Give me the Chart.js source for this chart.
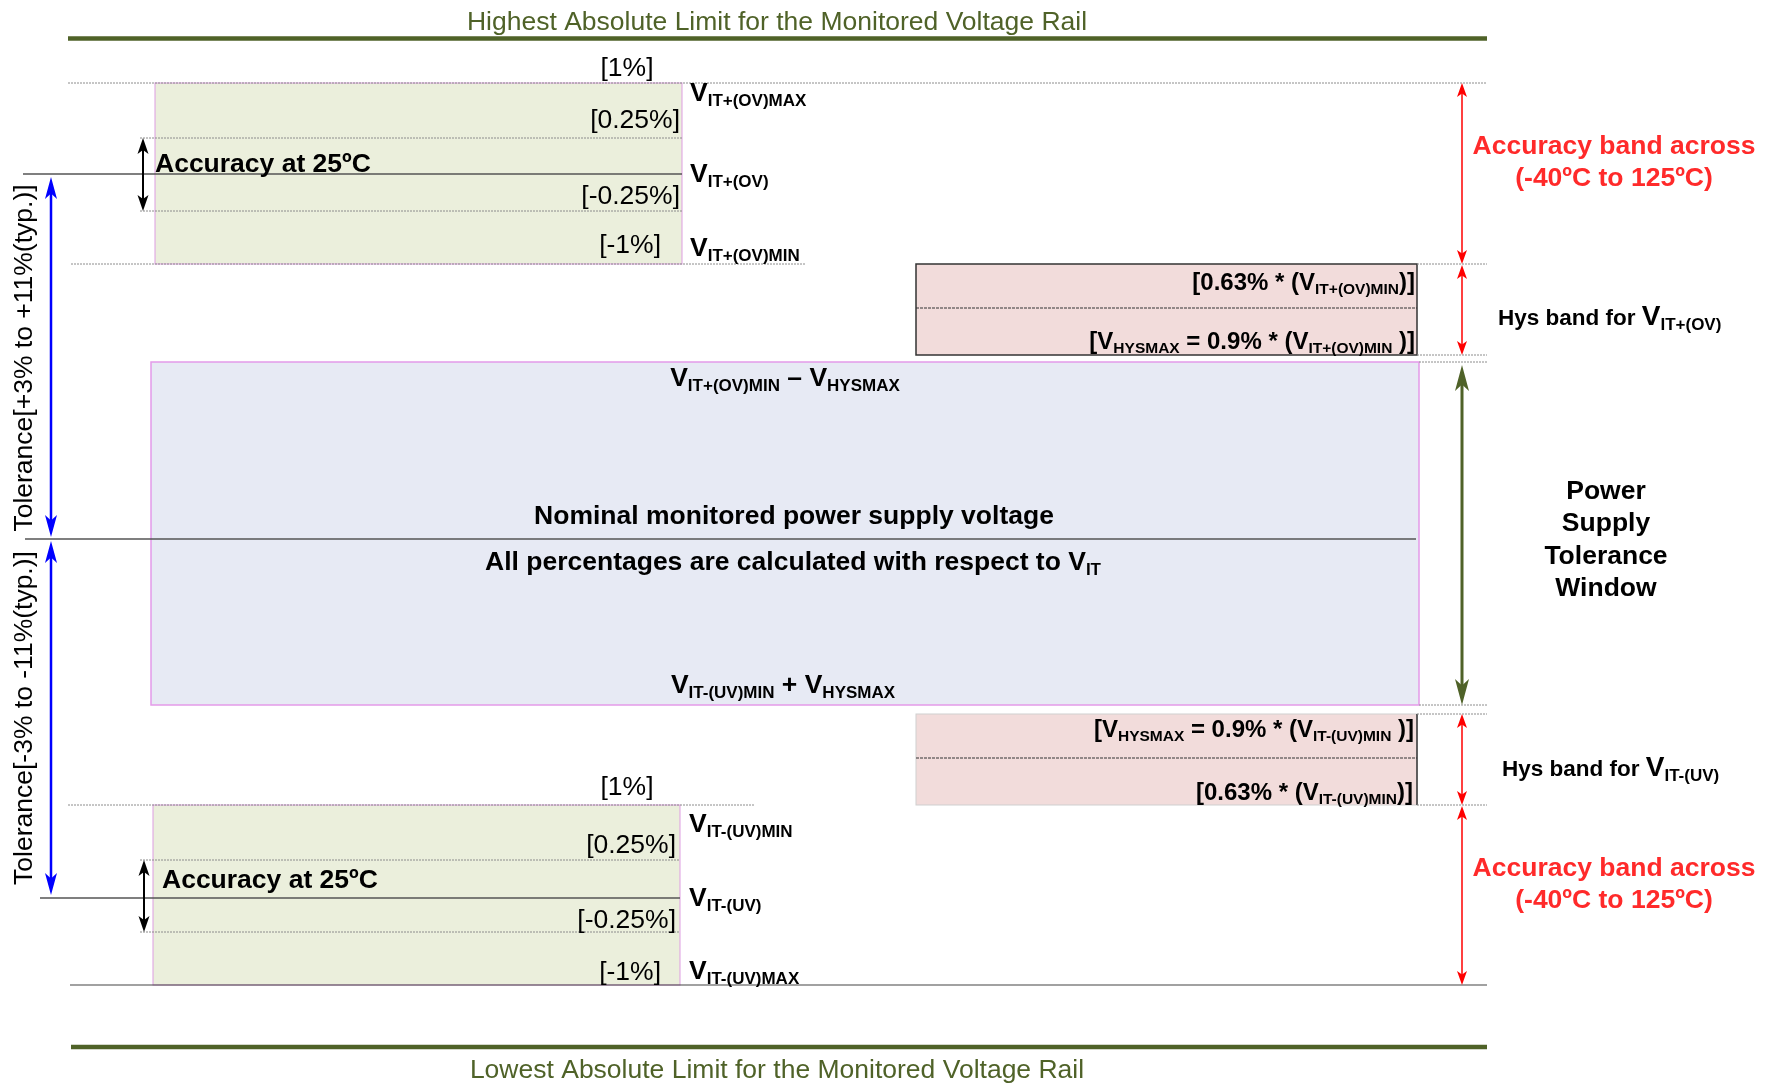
<!DOCTYPE html>
<html lang="en">
<head>
<meta charset="UTF-8">
<title>Voltage monitor thresholds</title>
<script src="https://cdn.jsdelivr.net/npm/chart.js"></script>
<style>
  body { margin: 0; background: #fff; }
  canvas { display: block; }
</style>
</head>
<body>
<canvas id="diagram" width="1776" height="1083"></canvas>
<script>
// levels of the diagram, y grows downward
const railY = [38.5, 1047];               // highest / lowest absolute limit
const ovY = [83, 138, 174, 211, 264];     // VIT+(OV)MAX, +0.25%, VIT+(OV), -0.25%, VIT+(OV)MIN
const hysOvY = [264, 308, 355];
const windowY = [362, 539, 705];          // window top, nominal, window bottom
const hysUvY = [714, 758, 805];
const uvY = [805, 860, 898, 932, 985];    // VIT-(UV)MIN, +0.25%, VIT-(UV), -0.25%, VIT-(UV)MAX

const accX = [155, 682];
const hysX = [916, 1417];
const winX = [151, 1419];
const railX = [68, 1487];
const arrowX = [51, 143, 1462];

const bandPct = ['[1%]', '[0.25%]', '[-0.25%]', '[-1%]'];
const ovNames = ['V_{IT+(OV)MAX}', 'V_{IT+(OV)}', 'V_{IT+(OV)MIN}'];
const uvNames = ['V_{IT-(UV)MIN}', 'V_{IT-(UV)}', 'V_{IT-(UV)MAX}'];
const hysOvText = ['[0.63% * (V_{IT+(OV)MIN})]', '[V_{HYSMAX} = 0.9% * (V_{IT+(OV)MIN} )]'];
const hysUvText = ['[V_{HYSMAX} = 0.9% * (V_{IT-(UV)MIN} )]', '[0.63% * (V_{IT-(UV)MIN})]'];
const windowText = ['V_{IT+(OV)MIN} \u2013 V_{HYSMAX}', 'Nominal monitored power supply voltage',
                    'All percentages are calculated with respect to V_{IT}', 'V_{IT-(UV)MIN} + V_{HYSMAX}'];
const toleranceText = ['Tolerance[+3% to +11%(typ.)]', 'Tolerance[-3% to -11%(typ.)]'];
const railText = ['Highest Absolute Limit for the Monitored Voltage Rail', 'Lowest Absolute Limit for the Monitored Voltage Rail'];

const OLIVE = '#4F6228';
const RED = '#FF2A2A';
const FAMILY = '"Liberation Sans", Arial, sans-serif';

const dotted = { borderColor: '#8c8c8c', borderWidth: 1, borderDash: [2, 1] };
const solid = { borderColor: '#555', borderWidth: 1.5 };

function seg(y, x0, x1, style) {
  return Object.assign({
    data: [{ x: x0, y: y }, { x: x1, y: y }],
    showLine: true, pointRadius: 0, fill: false
  }, style);
}

const lines = [
  seg(railY[0], railX[0], railX[1], { borderColor: OLIVE, borderWidth: 4.5 }),
  seg(railY[1], railX[0] + 3, railX[1], { borderColor: OLIVE, borderWidth: 4.5 }),
  seg(ovY[0], railX[0], railX[1], dotted),
  seg(ovY[1], 140, accX[1], dotted),
  seg(ovY[2], 23, accX[1], solid),
  seg(ovY[3], 140, accX[1], dotted),
  seg(ovY[4], railX[0] + 3, 805, dotted),
  seg(ovY[4], hysX[1], railX[1], dotted),
  seg(hysOvY[1], hysX[0], hysX[1], { borderColor: '#333', borderWidth: 1, borderDash: [3, 1] }),
  seg(hysOvY[2], hysX[1], railX[1], dotted),
  seg(windowY[0], winX[1], railX[1], dotted),
  seg(windowY[1], 25, winX[1] - 3, solid),
  seg(windowY[2], winX[1], railX[1], dotted),
  seg(hysUvY[0], hysX[1], railX[1], dotted),
  seg(hysUvY[1], hysX[0], hysX[1], { borderColor: '#333', borderWidth: 1, borderDash: [3, 1] }),
  seg(uvY[0], railX[0], 755, dotted),
  seg(uvY[0], hysX[1], railX[1], dotted),
  seg(uvY[1], 140, accX[1] - 2, dotted),
  seg(uvY[2], 40, accX[1] - 2, solid),
  seg(uvY[3], 140, accX[1] - 2, dotted),
  seg(uvY[4], railX[0] + 2, railX[1], { borderColor: '#444', borderWidth: 1.2 })
];

function font(size, bold) {
  return (bold ? 'bold ' : '') + size + 'px ' + FAMILY;
}

// text with V_{sub} subscripts, returns the drawn width
function rich(ctx, str, x, y, o) {
  const size = o.size || 26.5;
  const sub = o.sub || size * 0.64;
  const segs = [];
  const re = /_\{([^}]*)\}/g;
  let last = 0, m;
  while ((m = re.exec(str))) {
    if (m.index > last) segs.push({ t: str.slice(last, m.index), s: false });
    segs.push({ t: m[1], s: true });
    last = re.lastIndex;
  }
  if (last < str.length) segs.push({ t: str.slice(last), s: false });
  let total = 0;
  segs.forEach(p => {
    ctx.font = font(p.s ? sub : size, o.bold);
    p.w = ctx.measureText(p.t).width;
    total += p.w;
  });
  let cx = o.align === 'right' ? x - total : o.align === 'center' ? x - total / 2 : x;
  ctx.fillStyle = o.color || '#000';
  ctx.textAlign = 'left';
  ctx.textBaseline = 'alphabetic';
  segs.forEach(p => {
    ctx.font = font(p.s ? sub : size, o.bold);
    ctx.fillText(p.t, cx, y + (p.s ? size * 0.18 : 0));
    cx += p.w;
  });
  return total;
}

function arrow(ctx, x, y0, y1, o) {
  ctx.save();
  ctx.strokeStyle = o.color;
  ctx.fillStyle = o.color;
  ctx.lineWidth = o.lw;
  ctx.beginPath();
  ctx.moveTo(x, y0 + o.hl * 0.6);
  ctx.lineTo(x, y1 - o.hl * 0.6);
  ctx.stroke();
  [[y0, 1], [y1, -1]].forEach(([tip, d]) => {
    ctx.beginPath();
    ctx.moveTo(x, tip);
    ctx.lineTo(x - o.hw, tip + d * o.hl);
    ctx.lineTo(x, tip + d * o.hl * 0.75);
    ctx.lineTo(x + o.hw, tip + d * o.hl);
    ctx.closePath();
    ctx.fill();
  });
  ctx.restore();
}

const diagram = {
  id: 'diagram',
  beforeDatasetsDraw(chart) {
    const ctx = chart.ctx, xs = chart.scales.x, ys = chart.scales.y;
    const X = v => xs.getPixelForValue(v), Y = v => ys.getPixelForValue(v);
    function box(x0, x1, y0, y1, fill, stroke, lw) {
      ctx.save();
      ctx.fillStyle = fill;
      ctx.fillRect(X(x0), Y(y0), X(x1) - X(x0), Y(y1) - Y(y0));
      ctx.strokeStyle = stroke;
      ctx.lineWidth = lw;
      ctx.strokeRect(X(x0), Y(y0), X(x1) - X(x0), Y(y1) - Y(y0));
      ctx.restore();
    }
    box(accX[0], accX[1], ovY[0], ovY[4], '#EBEFDC', '#DE9DE2', 1);
    box(accX[0] - 2, accX[1] - 2, uvY[0], uvY[4], '#EBEFDC', '#DE9DE2', 1);
    box(winX[0], winX[1], windowY[0], windowY[2], '#E7EAF4', '#E49AE9', 1.5);
    box(hysX[0], hysX[1], hysOvY[0], hysOvY[2], '#F2DCDB', '#333', 1.5);
    box(hysX[0], hysX[1], hysUvY[0], hysUvY[2], '#F2DCDB', '#cfcfcf', 1);
    ctx.save();
    ctx.strokeStyle = '#333';
    ctx.lineWidth = 1.5;
    ctx.beginPath();
    ctx.moveTo(X(hysX[1]), Y(hysUvY[0]));
    ctx.lineTo(X(hysX[1]), Y(hysUvY[2]));
    ctx.stroke();
    ctx.restore();
  },
  afterDatasetsDraw(chart) {
    const ctx = chart.ctx, xs = chart.scales.x, ys = chart.scales.y;
    const X = v => xs.getPixelForValue(v), Y = v => ys.getPixelForValue(v);

    // rail titles
    rich(ctx, railText[0], X(777), Y(railY[0]) - 9, { color: OLIVE, align: 'center' });
    rich(ctx, railText[1], X(777), Y(railY[1]) + 31, { color: OLIVE, align: 'center' });

    // over-voltage accuracy block
    rich(ctx, bandPct[0], X(627), Y(ovY[0]) - 7, { align: 'center' });
    rich(ctx, bandPct[1], X(accX[1]) - 2, Y(ovY[1]) - 10, { align: 'right' });
    rich(ctx, 'Accuracy at 25\u00baC', X(accX[0]), Y(ovY[2]) - 2, { bold: true });
    rich(ctx, bandPct[2], X(accX[1]) - 2, Y(ovY[3]) - 7, { align: 'right' });
    rich(ctx, bandPct[3], X(661), Y(ovY[4]) - 11, { align: 'right' });
    rich(ctx, ovNames[0], X(690), Y(ovY[0]) + 18, { bold: true, sub: 17 });
    rich(ctx, ovNames[1], X(690), Y(ovY[2]) + 8, { bold: true, sub: 17 });
    rich(ctx, ovNames[2], X(690), Y(ovY[4]) - 8, { bold: true, sub: 17 });

    // under-voltage accuracy block
    rich(ctx, bandPct[0], X(627), Y(uvY[0]) - 10, { align: 'center' });
    rich(ctx, bandPct[1], X(accX[1]) - 6, Y(uvY[1]) - 7, { align: 'right' });
    rich(ctx, 'Accuracy at 25\u00baC', X(162), Y(uvY[2]) - 10, { bold: true });
    rich(ctx, bandPct[2], X(accX[1]) - 6, Y(uvY[3]) - 4, { align: 'right' });
    rich(ctx, bandPct[3], X(661), Y(uvY[4]) - 5, { align: 'right' });
    rich(ctx, uvNames[0], X(689), Y(uvY[0]) + 27, { bold: true, sub: 17 });
    rich(ctx, uvNames[1], X(689), Y(uvY[2]) + 8, { bold: true, sub: 17 });
    rich(ctx, uvNames[2], X(689), Y(uvY[4]) - 6, { bold: true, sub: 17 });

    // hysteresis boxes
    rich(ctx, hysOvText[0], X(hysX[1]) - 2, Y(hysOvY[0]) + 26, { bold: true, size: 24, sub: 15.5, align: 'right' });
    rich(ctx, hysOvText[1], X(hysX[1]) - 2, Y(hysOvY[2]) - 6, { bold: true, size: 24, sub: 15.5, align: 'right' });
    rich(ctx, hysUvText[0], X(hysX[1]) - 3, Y(hysUvY[0]) + 23, { bold: true, size: 24, sub: 15.5, align: 'right' });
    rich(ctx, hysUvText[1], X(hysX[1]) - 4, Y(hysUvY[2]) - 5, { bold: true, size: 24, sub: 15.5, align: 'right' });

    // tolerance window
    rich(ctx, windowText[0], X(785), Y(windowY[0]) + 24, { bold: true, sub: 17, align: 'center' });
    rich(ctx, windowText[1], X(794), Y(windowY[1]) - 15, { bold: true, align: 'center' });
    rich(ctx, windowText[2], X(793), Y(windowY[1]) + 31, { bold: true, sub: 17, align: 'center' });
    rich(ctx, windowText[3], X(783), Y(windowY[2]) - 12, { bold: true, sub: 17, align: 'center' });

    // right-hand notes
    rich(ctx, 'Accuracy band across', X(1614), 154, { bold: true, color: RED, align: 'center' });
    rich(ctx, '(-40\u00baC to 125\u00baC)', X(1614), 186, { bold: true, color: RED, align: 'center' });
    rich(ctx, 'Accuracy band across', X(1614), 876, { bold: true, color: RED, align: 'center' });
    rich(ctx, '(-40\u00baC to 125\u00baC)', X(1614), 908, { bold: true, color: RED, align: 'center' });
    let w = rich(ctx, 'Hys band for ', X(1498), 325, { bold: true, size: 22.5 });
    rich(ctx, 'V_{IT+(OV)}', X(1498) + w, 325, { bold: true, size: 28, sub: 17 });
    w = rich(ctx, 'Hys band for ', X(1502), 776, { bold: true, size: 22.5 });
    rich(ctx, 'V_{IT-(UV)}', X(1502) + w, 776, { bold: true, size: 28, sub: 17 });
    ['Power', 'Supply', 'Tolerance', 'Window'].forEach((word, i) => {
      rich(ctx, word, X(1606), 499 + i * 32.3, { bold: true, align: 'center' });
    });

    // rotated tolerance labels
    [[toleranceText[0], 358], [toleranceText[1], 718]].forEach(([t, cy]) => {
      ctx.save();
      ctx.translate(X(25), Y(cy));
      ctx.rotate(-Math.PI / 2);
      ctx.font = font(26.5, false);
      ctx.fillStyle = '#000';
      ctx.textAlign = 'center';
      ctx.textBaseline = 'middle';
      ctx.fillText(t, 0, 0);
      ctx.restore();
    });

    // arrows
    const black = { color: '#000', lw: 2, hl: 16, hw: 5.5 };
    const blue = { color: '#0000FF', lw: 2.5, hl: 22, hw: 6 };
    const red = { color: '#FF0000', lw: 1.5, hl: 14, hw: 5 };
    const green = { color: OLIVE, lw: 3, hl: 26, hw: 7 };
    arrow(ctx, X(arrowX[1]), Y(ovY[1]), Y(ovY[3]), black);
    arrow(ctx, X(arrowX[1] + 1), Y(uvY[1]), Y(uvY[3]), black);
    arrow(ctx, X(arrowX[0]), Y(177), Y(windowY[1] - 2), blue);
    arrow(ctx, X(arrowX[0]), Y(windowY[1] + 2), Y(895), blue);
    arrow(ctx, X(arrowX[2]), Y(ovY[0]), Y(ovY[4]), red);
    arrow(ctx, X(arrowX[2]), Y(hysOvY[0] + 1), Y(hysOvY[2]), red);
    arrow(ctx, X(arrowX[2]), Y(windowY[0] + 3), Y(windowY[2]), green);
    arrow(ctx, X(arrowX[2]), Y(hysUvY[0]), Y(hysUvY[2]), red);
    arrow(ctx, X(arrowX[2]), Y(uvY[0] + 1), Y(uvY[4]), red);
  }
};

new Chart(document.getElementById('diagram'), {
  type: 'scatter',
  data: { datasets: lines },
  options: {
    responsive: false,
    animation: false,
    devicePixelRatio: 1,
    layout: { padding: 0 },
    scales: {
      x: { type: 'linear', min: 0, max: 1776, display: false },
      y: { type: 'linear', min: 0, max: 1083, reverse: true, display: false }
    },
    plugins: { legend: { display: false }, tooltip: { enabled: false } }
  },
  plugins: [diagram]
});
</script>
</body>
</html>
